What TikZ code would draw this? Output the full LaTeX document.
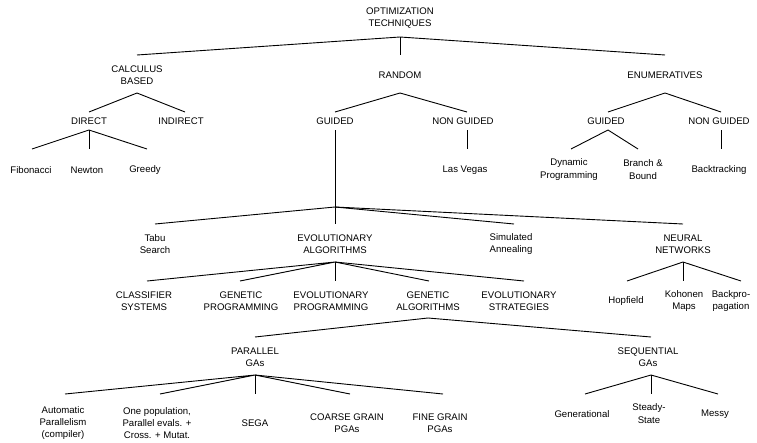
\documentclass[tikz,border=0pt]{standalone}
\usepackage{fontspec}
\setmainfont{Liberation Sans}
\begin{document}
\begin{tikzpicture}[x=1pt,y=-1pt,
  lbl/.style={align=center,inner sep=0pt,font=\fontsize{9.6}{12.2}\selectfont},
  edge/.style={line width=0.9pt}]
\useasboundingbox (0,0) rectangle (757,442);
% row levels
\coordinate (y37) at (0,37);
\coordinate (y55) at (0,55);
\coordinate (y93) at (0,93);
\coordinate (y112) at (0,112);
\coordinate (y130) at (0,130);
\coordinate (y149) at (0,149);
\coordinate (y207) at (0,207);
\coordinate (y224) at (0,224);
\coordinate (y262) at (0,262);
\coordinate (y281) at (0,281);
\coordinate (y318) at (0,318);
\coordinate (y337) at (0,337);
\coordinate (y375) at (0,375);
\coordinate (y394) at (0,394);
% nodes
\node[lbl] (root) at (400,18) {OPTIMIZATION\\TECHNIQUES};
\node[lbl] (calc) at (137,75) {CALCULUS\\BASED};
\node[lbl] (random) at (400,75) {RANDOM};
\node[lbl] (enum) at (665,75) {ENUMERATIVES};
\node[lbl] (direct) at (89,121) {DIRECT};
\node[lbl] (indirect) at (181,121) {INDIRECT};
\node[lbl] (rg) at (335,121) {GUIDED};
\node[lbl] (rng) at (463,121) {NON GUIDED};
\node[lbl] (eg) at (606,121) {GUIDED};
\node[lbl] (eng) at (719,121) {NON GUIDED};
\node[lbl] (fib) at (31,170) {Fibonacci};
\node[lbl] (newton) at (87,170) {Newton};
\node[lbl] (greedy) at (145,170) {Greedy};
\node[lbl] (lv) at (465,170) {Las Vegas};
\node[lbl] (dyn) at (569,169.5) {Dynamic\\Programming};
\node[lbl] (bb) at (643,169.5) {Branch \&\\Bound};
\node[lbl] (bt) at (719,170) {Backtracking};
\node[lbl] (tabu) at (155,244) {Tabu\\Search};
\node[lbl] (ea) at (335,244) {EVOLUTIONARY\\ALGORITHMS};
\node[lbl] (sa) at (511,244) {Simulated\\Annealing};
\node[lbl] (nn) at (683,244) {NEURAL\\NETWORKS};
\node[lbl] (cs) at (144,301) {CLASSIFIER\\SYSTEMS};
\node[lbl] (gp) at (241,301) {GENETIC\\PROGRAMMING};
\node[lbl] (ep) at (331,301) {EVOLUTIONARY\\PROGRAMMING};
\node[lbl] (ga) at (428,301) {GENETIC\\ALGORITHMS};
\node[lbl] (es) at (519,301) {EVOLUTIONARY\\STRATEGIES};
\node[lbl] (hop) at (626,301) {Hopfield};
\node[lbl] (koh) at (684,301) {Kohonen\\Maps};
\node[lbl] (bp) at (731,301) {Backpro-\\pagation};
\node[lbl] (pga) at (255,357.5) {PARALLEL\\GAs};
\node[lbl] (sga) at (648,357.5) {SEQUENTIAL\\GAs};
\node[lbl] (auto) at (63,423) {Automatic\\Parallelism\\(compiler)};
\node[lbl] (onepop) at (157,423) {One population,\\Parallel evals. +\\Cross. + Mutat.};
\node[lbl] (sega) at (255,423) {SEGA};
\node[lbl] (coarse) at (347,423) {COARSE GRAIN\\PGAs};
\node[lbl] (fine) at (440,423) {FINE GRAIN\\PGAs};
\node[lbl] (gen) at (582,414) {Generational};
\node[lbl] (steady) at (649,413.5) {Steady-\\State};
\node[lbl] (messy) at (715,414) {Messy};
% connectors
\begin{scope}[edge]
\draw (calc |- y55) -- (root |- y37) -- (enum |- y55);
\draw (root |- y37) -- (random |- y55);
\draw (direct |- y112) -- (calc |- y93) -- (185,112 |- y112);
\draw (rg |- y112) -- (random |- y93) -- ([xshift=4pt]rng.center |- y112);
\draw ([xshift=2pt]eg.center |- y112) -- (enum |- y93) -- ([xshift=2pt]eng.center |- y112);
\draw ([xshift=1pt]fib.center |- y149) -- (direct |- y130) -- ([xshift=2pt]greedy.center |- y149);
\draw (direct |- y130) -- ([xshift=2pt]newton.center |- y149);
\draw ([xshift=4pt]rng.center |- y130) -- ([xshift=4pt]rng.center |- y149);
\draw ([xshift=2pt]eng.center |- y130) -- ([xshift=2pt]eng.center |- y149);
\draw ([xshift=2pt]dyn.center |- y149) -- ([xshift=2pt]eg.center |- y130) -- ([xshift=-5pt]bb.center |- y149);
\draw (rg |- y130) -- (ea |- y224);
\draw (tabu |- y224) -- (rg |- y207) -- ([xshift=3pt]sa.center |- y224);
\draw (rg |- y207) -- (nn |- y224);
\draw ([xshift=3pt]cs.center |- y281) -- (ea |- y262) -- ([xshift=-1pt]gp.center |- y281);
\draw ([xshift=4pt]ep.center |- y262) -- ([xshift=4pt]ep.center |- y281);
\draw (ea |- y262) -- ([xshift=1pt]ga.center |- y281);
\draw (ea |- y262) -- ([xshift=5pt]es.center |- y281);
\draw ([xshift=1pt]hop.center |- y281) -- (nn |- y262) -- ([xshift=10pt]bp.center |- y281);
\draw (nn |- y262) -- (nn |- y281);
\draw (pga |- y337) -- (ga |- y318) -- ([xshift=3pt]sga.center |- y337);
\draw ([xshift=2pt]auto.center |- y394) -- (pga |- y375) -- ([xshift=3pt]onepop.center |- y394);
\draw (pga |- y375) -- (sega |- y394);
\draw (pga |- y375) -- ([xshift=3pt]coarse.center |- y394);
\draw (pga |- y375) -- ([xshift=3pt]fine.center |- y394);
\draw ([xshift=3pt]gen.center |- y394) -- ([xshift=3pt]sga.center |- y375) -- ([xshift=3pt]messy.center |- y394);
\draw ([xshift=3pt]sga.center |- y375) -- ([xshift=3pt]sga.center |- y394);
\end{scope}
\end{tikzpicture}
\end{document}
